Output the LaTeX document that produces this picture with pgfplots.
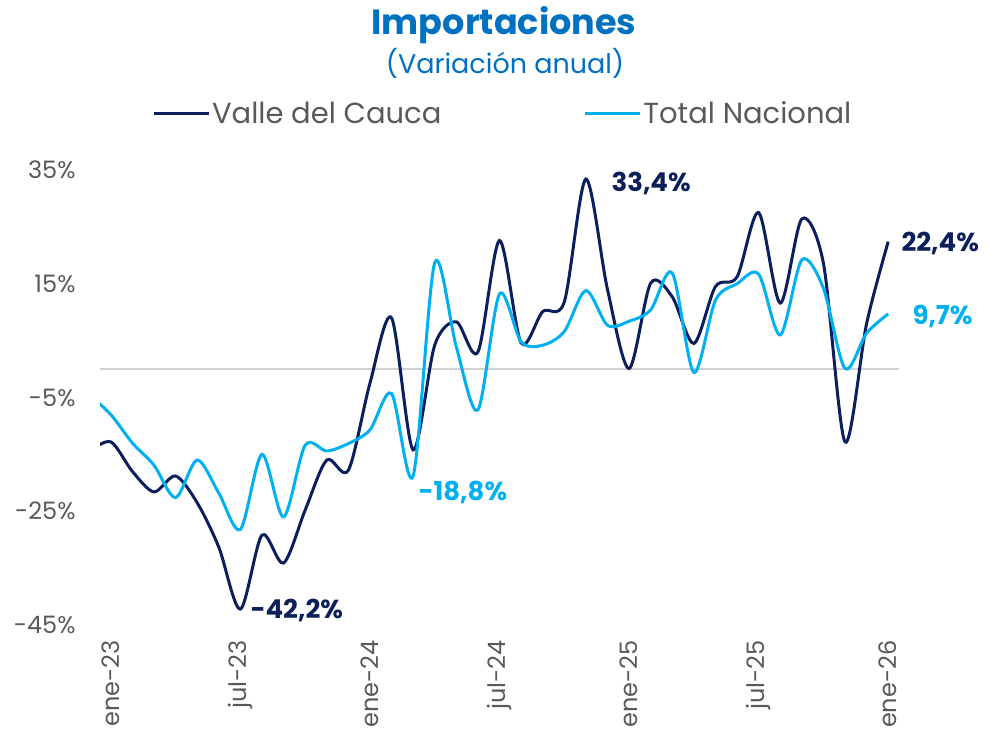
\documentclass[border=0pt]{standalone}
\usepackage{pgfplots}
\pgfplotsset{compat=1.18}
\usepackage{pgfplotstable}
\usepackage{fontspec}
\setmainfont{Poppins}
\definecolor{navy}{HTML}{0B1F5C}
\definecolor{sky}{HTML}{00B0F0}
\definecolor{titleblue}{HTML}{0070C0}
\definecolor{txt}{HTML}{595959}

\pgfplotstableread{
x valle total
-1 -14.5 -4.5
0 -12.8 -8.0
1 -18.0 -13.0
2 -21.6 -16.9
3 -18.8 -22.6
4 -23.5 -16.0
5 -31.3 -21.8
6 -42.2 -28.2
7 -29.2 -15.0
8 -34.1 -26.0
9 -24.8 -13.4
10 -16.0 -14.4
11 -17.8 -13.1
12 -2.5 -10.7
13 9.0 -4.3
14 -14.2 -18.8
15 4.2 18.7
16 8.3 3.9
17 3.0 -7.2
18 22.6 13.2
19 4.6 4.8
20 10.1 4.2
21 11.8 6.6
22 33.4 13.8
23 14.0 7.7
24 0.1 8.4
25 15.1 10.4
26 12.7 16.9
27 4.5 -0.6
28 14.5 12.1
29 16.2 15.0
30 27.5 16.7
31 11.6 6.0
32 26.4 19.2
33 18.6 14.2
34 -12.8 0.1
35 8.0 6.3
36 22.4 9.7
}\data

\begin{document}
\begin{tikzpicture}[x=1pt,y=1pt]
\path[use as bounding box] (0,0) rectangle (990,738);
\begin{axis}[
  at={(100pt,113pt)}, anchor=south west,
  scale only axis, width=799pt, height=455pt,
  xmin=-0.5, xmax=36.5, ymin=-45, ymax=35,
  axis line style={draw=none},
  major tick length=0pt,
  xtick={0,6,12,18,24,30,36},
  xticklabels={ene-23,jul-23,ene-24,jul-24,ene-25,jul-25,ene-26},
  ytick={-45,-25,-5,15,35},
  yticklabels={-45\%,-25\%,-5\%,15\%,35\%},
  tick label style={font=\fontsize{24}{24}\selectfont, text=txt},
  xticklabel style={rotate=90, anchor=east},
  xticklabel shift=12pt,
  yticklabel shift=21pt,
  extra y ticks={0},
  extra y tick labels={},
  extra y tick style={grid=major, major grid style={draw=black!18, line width=1.5pt}},
  legend style={at={(0.504,1.125)}, anchor=center, draw=none, fill=none,
    legend columns=2, font=\fontsize{29}{29}\selectfont, text=txt,
    /tikz/every even column/.append style={column sep=140pt}},
  legend image code/.code={\draw[#1, line width=3pt] (0pt,0pt) -- (55pt,0pt);},
  clip=true,
]
\addplot[navy, line width=3pt, smooth, tension=0.5] table[x=x, y=valle] {\data};
\addlegendentry{Valle del Cauca}
\addplot[sky, line width=3pt, smooth, tension=0.5] table[x=x, y=total] {\data};
\addlegendentry{Total Nacional}
\end{axis}
\node[font=\bfseries\fontsize{35}{35}\selectfont, text=titleblue] at (504,713) {Importaciones};
\node[font=\fontsize{27}{27}\selectfont, text=titleblue] at (505,675) {(Variación anual)};
\node[anchor=west, font=\bfseries\fontsize{26}{26}\selectfont, text=navy] at (608,555) {33,4\%};
\node[anchor=west, font=\bfseries\fontsize{26}{26}\selectfont, text=navy] at (898,495) {22,4\%};
\node[anchor=west, font=\bfseries\fontsize{26}{26}\selectfont, text=sky] at (909,422) {9,7\%};
\node[anchor=west, font=\bfseries\fontsize{26}{26}\selectfont, text=navy] at (247,128) {-42,2\%};
\node[anchor=west, font=\bfseries\fontsize{26}{26}\selectfont, text=sky] at (415,246) {-18,8\%};
\end{tikzpicture}
\end{document}
